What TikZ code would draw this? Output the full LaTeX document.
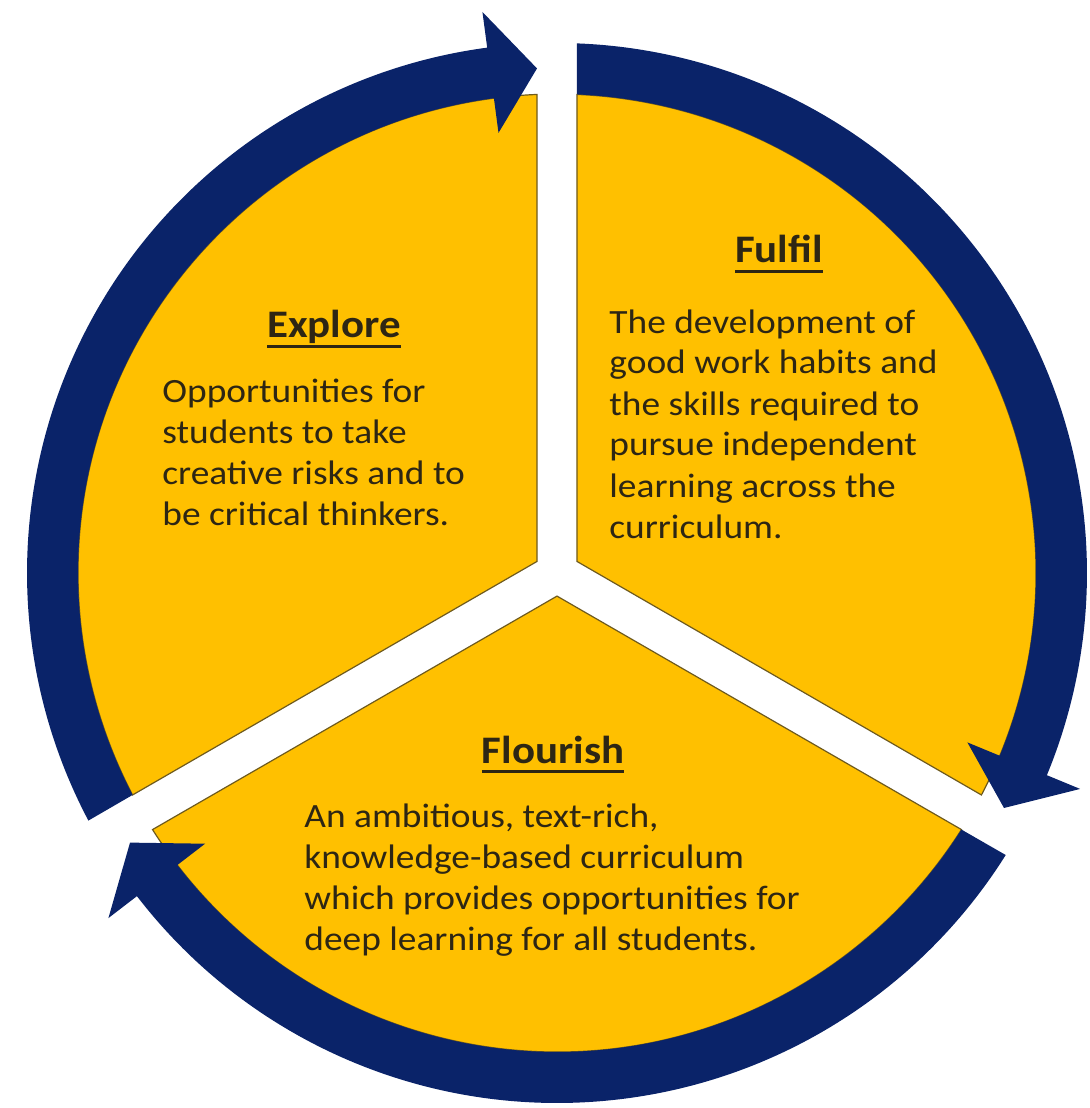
\documentclass[tikz,border=0pt]{standalone}
\usepackage{fontspec}
\setmainfont{Carlito}[FakeStretch=1.1]

\definecolor{gold}{RGB}{255,192,0}
\definecolor{navy}{RGB}{10,35,105}
\definecolor{rim}{RGB}{110,90,30}
\definecolor{ink}{RGB}{45,38,20}

\newcommand{\ulhead}[1]{\vtop{\hbox{\raisebox{0pt}[\height][0pt]{#1}}\kern3.5pt\hrule height 1.5pt}}

\tikzstyle{sector} = [fill=gold, draw=rim, line width=0.6pt]
\tikzstyle{band} = [fill=navy]
\tikzstyle{heading} = [font=\fontsize{19.5}{24}\selectfont\bfseries, text=ink, inner sep=0pt, anchor=base]
\tikzstyle{blurb} = [font=\fontsize{17}{20.5}\selectfont, text=ink, inner sep=0pt, align=left, anchor=base west]

\begin{document}
\begin{tikzpicture}[x=0.5pt, y=0.5pt]
        \useasboundingbox (-557,-535) rectangle (532,573);

        % three wedges, split by white gaps
        \foreach \a in {90,-30,-150}
            \draw [sector] (\a+60:23.09) -- (\a+2.39:479) arc[start angle=\a+2.39, end angle=\a+117.61, radius=479] -- cycle;

        % curved arrows round the rim
        \foreach \from/\to in {210/90, 90/-30, -30/-150}
            \fill [band] (\from-2.39:479) arc[start angle=\from-2.39, end angle=\to+7.57, radius=479]
                -- (\to+7.57:444) -- (\to+2.27:505) -- (\to+7.57:566) -- (\to+7.57:530)
                arc[start angle=\to+7.57, end angle=\from-2.15, radius=530] -- cycle;

        \node (explore)     [heading] at (-223,235) {\ulhead{Explore}};
        \node (exploretxt)  [blurb] at (-395,47) {Opportunities for\\students to take\\creative risks and to\\be critical thinkers.};

        \node (fulfil)      [heading] at (222,310) {\ulhead{Fulfil}};
        \node (fulfiltxt)   [blurb] at (52,35) {The development of\\good work habits and\\the skills required to\\pursue independent\\learning across the\\curriculum.};

        \node (flourish)    [heading] at (-4,-190) {\ulhead{Flourish}};
        \node (flourishtxt) [blurb] at (-253,-377) {An ambitious, text-rich,\\knowledge-based curriculum\\which provides opportunities for\\deep learning for all students.};
    \end{tikzpicture}
\end{document}
